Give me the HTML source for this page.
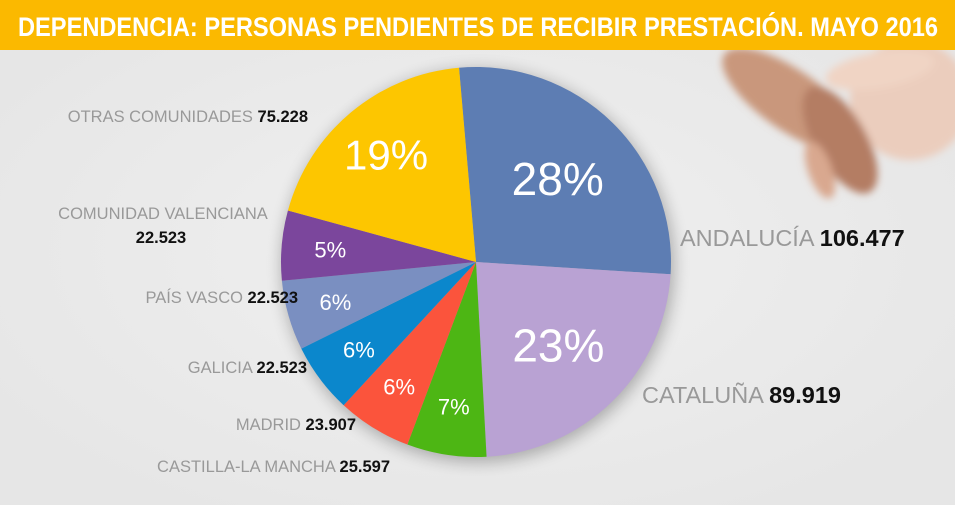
<!DOCTYPE html>
<html><head><meta charset="utf-8"><style>
body{margin:0;width:955px;height:505px;overflow:hidden;background:#ebebeb;font-family:"Liberation Sans",sans-serif}
svg{display:block}
</style></head><body>
<svg id="chart" width="955" height="505" viewBox="0 0 955 505">
<defs>
<filter id="sh" x="-20%" y="-20%" width="140%" height="140%"><feGaussianBlur stdDeviation="8"/></filter>
<filter id="bl" x="-20%" y="-20%" width="140%" height="140%"><feGaussianBlur stdDeviation="4"/></filter>
<radialGradient id="bg" cx="0.5" cy="0.5" r="0.6"><stop offset="0" stop-color="#f0f0f0"/><stop offset="1" stop-color="#e6e6e6"/></radialGradient>
</defs>
<rect width="955" height="505" fill="url(#bg)"/>
<g filter="url(#bl)">
<ellipse cx="910" cy="100" rx="60" ry="60" fill="#ebcdbd"/>
<ellipse cx="790" cy="100" rx="80" ry="30" fill="#c9977c" transform="rotate(35 790 100)"/>
<ellipse cx="840" cy="140" rx="60" ry="26" fill="#b47d63" transform="rotate(60 840 140)"/>
<ellipse cx="880" cy="70" rx="55" ry="18" fill="#f0d4c4" transform="rotate(-10 880 70)"/>
<ellipse cx="820" cy="170" rx="30" ry="12" fill="#d9a88f" transform="rotate(70 820 170)"/>
</g>
<rect x="0" y="0" width="955" height="50" fill="#fbb900"/>
<text x="18" y="36" fill="#fff" font-size="27" font-weight="bold" textLength="920" lengthAdjust="spacingAndGlyphs">DEPENDENCIA: PERSONAS PENDIENTES DE RECIBIR PRESTACIÓN. MAYO 2016</text>
<circle cx="478" cy="266" r="196" fill="#000" opacity="0.28" filter="url(#sh)"/>
<g id="slices"></g>
<g id="pcts"></g>
<g id="labels" font-size="16.5"></g>
</svg>
<script>
const categories=["ANDALUCÍA","CATALUÑA","CASTILLA-LA MANCHA","MADRID","GALICIA","PAÍS VASCO","COMUNIDAD VALENCIANA","OTRAS COMUNIDADES"];
const values=[106477,89919,25597,23907,22523,22523,22523,75228];
const valueLabels=["106.477","89.919","25.597","23.907","22.523","22.523","22.523","75.228"];
const pctLabels=["28%","23%","7%","6%","6%","6%","5%","19%"];
const colors=["#5d7db3","#b9a2d3","#4db614","#fb543c","#0b87cc","#7a8fc1","#7b469c","#fdc600"];
const NS="http://www.w3.org/2000/svg";
const cx=476,cy=262,R=195,start=-5;
const total=values.reduce((a,b)=>a+b,0);
function pt(a,r){const t=(a-90)*Math.PI/180;return [cx+r*Math.cos(t),cy+r*Math.sin(t)];}
let a=start;
const sg=document.getElementById('slices'),pg=document.getElementById('pcts'),lg=document.getElementById('labels');
values.forEach((v,i)=>{
  const span=v/total*360,a2=a+span;
  const p1=pt(a,R),p2=pt(a2,R);
  const path=document.createElementNS(NS,'path');
  path.setAttribute('d',`M${cx},${cy}L${p1[0]},${p1[1]}A${R},${R} 0 ${span>180?1:0} 1 ${p2[0]},${p2[1]}Z`);
  path.setAttribute('fill',colors[i]);
  
  
  sg.appendChild(path);
  const frac=v/total;
  const rr=frac>0.2?0.6*R:(frac>0.15?0.72*R:0.75*R);
  const m=pt(a+span/2,rr);
  const fs=frac>0.2?46:(frac>0.15?42:22);
  const t=document.createElementNS(NS,'text');
  t.setAttribute('x',m[0]);t.setAttribute('y',m[1]+fs*0.36);
  t.setAttribute('text-anchor','middle');t.setAttribute('fill','#fff');t.setAttribute('font-size',fs);
  t.textContent=pctLabels[i];
  
  
  pg.appendChild(t);
  a=a2;
});
const labelPos=[[680,246,23.5,1],[642,403,23.5,1],[390,472,16.5,0],[356,430,16.5,0],[307,373,16.5,0],[298,303,16.5,0],[null,0,16.5,2],[308,122,16.5,0]];
labelPos.forEach((p,i)=>{
  const fs=p[2];
  if(p[3]===2){
    const t1=document.createElementNS(NS,'text');
    t1.setAttribute('x',163);t1.setAttribute('y',219);t1.setAttribute('text-anchor','middle');t1.setAttribute('fill','#999');
    t1.textContent=categories[i];
    
    
    lg.appendChild(t1);
    const t2=document.createElementNS(NS,'text');
    t2.setAttribute('x',161);t2.setAttribute('y',243);t2.setAttribute('text-anchor','middle');t2.setAttribute('fill','#111');t2.setAttribute('font-weight','bold');
    t2.textContent=valueLabels[i];
    
    
    lg.appendChild(t2);
    return;
  }
  const t=document.createElementNS(NS,'text');
  t.setAttribute('x',p[0]);t.setAttribute('y',p[1]);t.setAttribute('font-size',fs);
  t.setAttribute('text-anchor',p[3]===1?'start':'end');
  const s1=document.createElementNS(NS,'tspan');s1.setAttribute('fill','#999');s1.textContent=categories[i]+' ';
  const s2=document.createElementNS(NS,'tspan');s2.setAttribute('fill','#111');s2.setAttribute('font-weight','bold');s2.textContent=valueLabels[i];
  t.appendChild(s1);t.appendChild(s2);
  
  
  lg.appendChild(t);
});
</script>
</body></html>
